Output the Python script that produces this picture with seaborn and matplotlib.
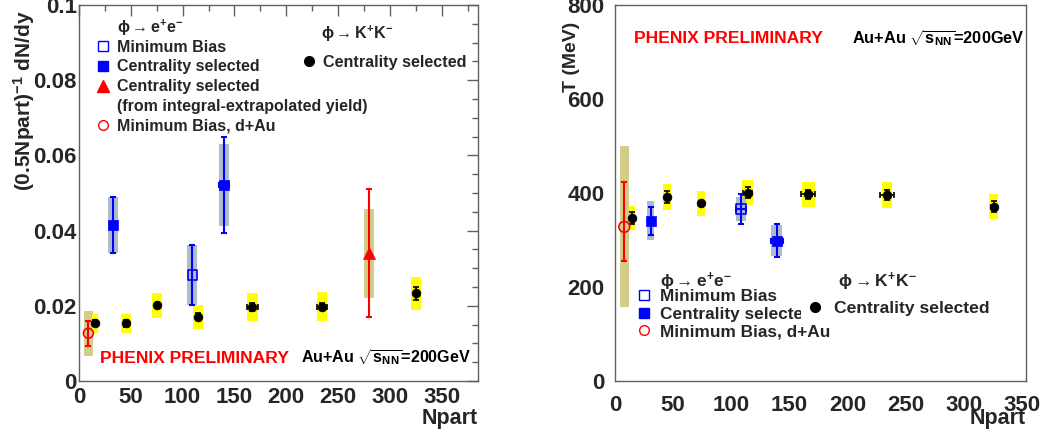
# plot.py - phi meson yield and inverse slope vs Npart (PHENIX preliminary style)

import numpy as np
import matplotlib
matplotlib.use('Agg')
import matplotlib.pyplot as plt
from matplotlib.lines import Line2D
from matplotlib.ticker import MultipleLocator, FuncFormatter
import seaborn as sns

# --- Data: left panel, (0.5 Npart)^-1 dN/dy ---
kk_npart_l = [15.4, 45.4, 75.0, 114.8, 167.3, 234.5, 325.2]
kk_yield = [0.0153, 0.0153, 0.0201, 0.0171, 0.0197, 0.0198, 0.0233]
kk_yield_err = [0.0008, 0.0010, 0.0006, 0.0009, 0.0010, 0.0010, 0.0018]
kk_yield_xerr = [0, 0, 0, 2, 5, 5, 0]
kk_yield_sys = [0.0025, 0.0025, 0.0034, 0.0032, 0.0038, 0.0038, 0.0044]
kk_yield_boxw = [3, 5, 5, 5, 5, 5, 5]

ee_mb_npart_l = [109.3]
ee_mb_yield = [0.0282]
ee_mb_yield_err = [0.0079]
ee_mb_yield_sys = [0.0079]
ee_mb_yield_boxw = [5]

ee_cs_npart_l = [32.5, 140.2]
ee_cs_yield = [0.0415, 0.0521]
ee_cs_yield_err = [0.0075, 0.0127]
ee_cs_yield_xerr = [0, 5]
ee_cs_yield_sys = [0.0075, 0.0109]
ee_cs_yield_boxw = [5, 5]

ee_ext_npart = [279.8]
ee_ext_yield = [0.0340]
ee_ext_yield_err = [0.0170]
ee_ext_yield_sys = [0.0118]
ee_ext_yield_boxw = [5]

dau_npart_l = [9.0]
dau_yield = [0.0127]
dau_yield_err = [0.0033]
dau_yield_sys = [0.0060]
dau_yield_boxw = [4.2]

# --- Data: right panel, inverse slope T (MeV) ---
kk_npart_r = [14.3, 44.7, 73.9, 114.0, 166.1, 234.0, 325.4]
kk_temp = [347, 392, 378, 401, 397, 396, 371]
kk_temp_err = [13, 13, 5, 12, 10, 10, 12]
kk_temp_xerr = [0, 0, 0, 4, 6, 6, 2]
kk_temp_sys = [25, 28, 26, 27, 27, 27, 26]
kk_temp_boxw = [2.5, 3.5, 3.6, 4.5, 5.5, 4.5, 3.5]

ee_mb_npart_r = [108.3]
ee_mb_temp = [366]
ee_mb_temp_err = [31]
ee_mb_temp_xerr = [4]
ee_mb_temp_sys = [25]
ee_mb_temp_boxw = [4]

ee_cs_npart_r = [30.7, 139.2]
ee_cs_temp = [341, 298.5]
ee_cs_temp_err = [30, 35]
ee_cs_temp_xerr = [0, 5]
ee_cs_temp_sys = [41, 33]
ee_cs_temp_boxw = [3, 4.75]

dau_npart_r = [8.0]
dau_temp = [328]
dau_temp_err_lo = [73]
dau_temp_err_hi = [96]
dau_temp_sys = [171]
dau_temp_boxw = [3.9]

# --- Colours ---
AZUL = '#0000ff'
VERMELHO = '#ff0000'
AMARELO = '#ffff00'
CINZA_AZUL = '#b0bccb'
CAQUI = '#d4cc8a'
MOLDURA = '#606060'

CAB_EE = r'$\phi\rightarrow$e$^{+}$e$^{-}$'
CAB_KK = r'$\phi\rightarrow$K$^{+}$K$^{-}$'


def configurar_estilo():
    """ROOT-like look: bold Arial-metric font, white background."""
    sns.set_style('white')
    plt.rcParams['font.family'] = ['Liberation Sans', 'DejaVu Sans']
    plt.rcParams['font.weight'] = 'bold'
    plt.rcParams['mathtext.fontset'] = 'custom'
    plt.rcParams['mathtext.rm'] = 'Liberation Sans:bold'
    plt.rcParams['mathtext.bf'] = 'Liberation Sans:bold'
    plt.rcParams['mathtext.it'] = 'Liberation Sans:bold'
    plt.rcParams['mathtext.default'] = 'regular'


def desenhar_serie(ax, x, y, yerr, sys, boxw, cor_caixa, cor_erro, marcador,
                   cor_marcador, tam, aberto=False, xerr=None, lw=1.5, cap=2.5):
    """Systematic box + stat error bar + marker for one series."""
    x = np.asarray(x, dtype=float)
    y = np.asarray(y, dtype=float)
    sys = np.asarray(sys, dtype=float)
    ax.bar(x, 2 * sys, bottom=y - sys, width=2 * np.asarray(boxw), color=cor_caixa,
           linewidth=0, zorder=1)
    ax.errorbar(x, y, yerr=yerr, xerr=xerr, fmt='none', ecolor=cor_erro,
                elinewidth=lw, capsize=cap, capthick=lw, zorder=2)
    if aberto:
        ax.scatter(x, y, marker=marcador, s=tam, facecolors='none',
                   edgecolors=cor_marcador, linewidths=1.2, zorder=3)
    else:
        sns.scatterplot(x=x, y=y, ax=ax, marker=marcador, s=tam, color=cor_marcador,
                        edgecolor=cor_marcador, linewidth=0.5, zorder=3, legend=False)


def formatar_eixos(ax, ylim, ymaior, ymenor, fmt, lados_todos):
    ax.set_ylim(*ylim)
    ax.xaxis.set_major_locator(MultipleLocator(50))
    ax.xaxis.set_minor_locator(MultipleLocator(25))
    ax.yaxis.set_major_locator(MultipleLocator(ymaior))
    ax.yaxis.set_minor_locator(MultipleLocator(ymenor))
    ax.yaxis.set_major_formatter(FuncFormatter(fmt))
    ax.xaxis.set_major_formatter(FuncFormatter(lambda v, p: f'{v:g}'))
    for s in ax.spines.values():
        s.set_color(MOLDURA)
        s.set_linewidth(1.0)
    if lados_todos:
        ax.tick_params(which='both', direction='in', top=True, right=True,
                       color=MOLDURA, width=1)
        ax.tick_params(which='major', length=8)
        ax.tick_params(which='minor', length=4)
    else:
        ax.tick_params(which='major', direction='out', length=6, color=MOLDURA, width=1)
        ax.tick_params(which='minor', direction='in', length=5, color=MOLDURA, width=1)
    ax.tick_params(axis='both', which='major', labelsize=16)
    ax.tick_params(axis='x', pad=4)
    ax.tick_params(axis='y', pad=1.5)
    for lab in ax.get_xticklabels() + ax.get_yticklabels():
        lab.set_fontweight('bold')
    ax.set_xlabel('Npart', fontsize=15.5, fontweight='bold', ha='right', va='top')
    ax.xaxis.set_label_coords(1.0, -0.072)


def handles_ee(com_triangulo):
    vazio = Line2D([], [], linestyle='none')
    mb = Line2D([], [], linestyle='none', marker='s', ms=6.5, mfc='none', mec=AZUL, mew=1)
    cs = Line2D([], [], linestyle='none', marker='s', ms=6.5, mfc=AZUL, mec=AZUL)
    tri = Line2D([], [], linestyle='none', marker='^', ms=8, mfc=VERMELHO, mec=VERMELHO)
    da = Line2D([], [], linestyle='none', marker='o', ms=7, mfc='none', mec=VERMELHO, mew=1)
    if com_triangulo:
        return ([mb, cs, tri, vazio, da],
                ['Minimum Bias', 'Centrality selected', 'Centrality selected',
                 '(from integral-extrapolated yield)', 'Minimum Bias, d+Au'])
    return ([mb, cs, da], ['Minimum Bias', 'Centrality selected', 'Minimum Bias, d+Au'])


def handles_kk():
    kk = Line2D([], [], linestyle='none', marker='o', ms=7, mfc='black', mec='black')
    return [kk], ['Centrality selected']


def painel_rendimento(ax):
    desenhar_serie(ax, dau_npart_l, dau_yield, dau_yield_err, dau_yield_sys, dau_yield_boxw,
                   CAQUI, VERMELHO, 'o', VERMELHO, 50, aberto=True)
    desenhar_serie(ax, kk_npart_l, kk_yield, kk_yield_err, kk_yield_sys, kk_yield_boxw,
                   AMARELO, 'black', 'o', 'black', 40, xerr=kk_yield_xerr, lw=1.2, cap=2)
    desenhar_serie(ax, ee_mb_npart_l, ee_mb_yield, ee_mb_yield_err, ee_mb_yield_sys,
                   ee_mb_yield_boxw, CINZA_AZUL, AZUL, 's', AZUL, 45, aberto=True)
    desenhar_serie(ax, ee_cs_npart_l, ee_cs_yield, ee_cs_yield_err, ee_cs_yield_sys,
                   ee_cs_yield_boxw, CINZA_AZUL, AZUL, 's', AZUL, 45, xerr=ee_cs_yield_xerr)
    desenhar_serie(ax, ee_ext_npart, ee_ext_yield, ee_ext_yield_err, ee_ext_yield_sys,
                   ee_ext_yield_boxw, CAQUI, VERMELHO, '^', VERMELHO, 75)
    ax.set_xlim(0, 385)
    formatar_eixos(ax, (0, 0.1), 0.02, 0.005,
                   lambda v, p: '0' if abs(v) < 1e-9 else f'{v:g}', True)
    ax.set_ylabel(r'(0.5Npart)$^{-1}$ dN/dy', fontsize=15, fontweight='bold', loc='top')
    ax.yaxis.set_label_coords(-0.105, 0.985)

    ax.text(0.095, 0.940, CAB_EE, fontsize=11.5, fontweight='bold',
            transform=ax.transAxes, va='center', ha='left')
    h, l = handles_ee(True)
    leg1 = ax.legend(h, l, loc='upper left', bbox_to_anchor=(0.040, 0.908), frameon=False,
                     borderpad=0, borderaxespad=0, handlelength=1.0, handletextpad=0.4,
                     labelspacing=0.3, prop={'size': 11.5, 'weight': 'bold'})
    ax.add_artist(leg1)

    ax.text(0.607, 0.922, CAB_KK, fontsize=11.6, fontweight='bold',
            transform=ax.transAxes, va='center', ha='left')
    h, l = handles_kk()
    ax.legend(h, l, loc='upper left', bbox_to_anchor=(0.556, 0.868), frameon=False,
              borderpad=0, borderaxespad=0, handlelength=1.0, handletextpad=0.4,
              prop={'size': 11.6, 'weight': 'bold'})

    ax.text(0.053, 0.0585, 'PHENIX PRELIMINARY', color=VERMELHO, fontsize=12.6,
            fontweight='bold', transform=ax.transAxes, va='center', ha='left')
    ax.text(0.556, 0.064, r'Au+Au $\sqrt{s_{NN}}$=200GeV', color='black', fontsize=11.6,
            fontweight='bold', transform=ax.transAxes, va='center', ha='left')


def painel_temperatura(ax):
    desenhar_serie(ax, dau_npart_r, dau_temp, [dau_temp_err_lo, dau_temp_err_hi],
                   dau_temp_sys, dau_temp_boxw, CAQUI, VERMELHO, 'o', VERMELHO, 60, aberto=True)
    desenhar_serie(ax, kk_npart_r, kk_temp, kk_temp_err, kk_temp_sys, kk_temp_boxw,
                   AMARELO, 'black', 'o', 'black', 40, xerr=kk_temp_xerr, lw=1.2, cap=2)
    desenhar_serie(ax, ee_mb_npart_r, ee_mb_temp, ee_mb_temp_err, ee_mb_temp_sys,
                   ee_mb_temp_boxw, CINZA_AZUL, AZUL, 's', AZUL, 45, aberto=True,
                   xerr=ee_mb_temp_xerr)
    desenhar_serie(ax, ee_cs_npart_r, ee_cs_temp, ee_cs_temp_err, ee_cs_temp_sys,
                   ee_cs_temp_boxw, CINZA_AZUL, AZUL, 's', AZUL, 45, xerr=ee_cs_temp_xerr)
    ax.set_xlim(0, 353)
    formatar_eixos(ax, (0, 800), 200, 100, lambda v, p: f'{v:g}', False)
    ax.set_ylabel('T (MeV)', fontsize=14, fontweight='bold', loc='top')
    ax.yaxis.set_label_coords(-0.085, 0.955)

    ax.text(0.110, 0.263, CAB_EE, fontsize=12.4, fontweight='bold',
            transform=ax.transAxes, va='center', ha='left')
    h, l = handles_ee(False)
    leg1 = ax.legend(h, l, loc='upper left', bbox_to_anchor=(0.050, 0.245), frameon=False,
                     borderpad=0, borderaxespad=0, handlelength=1.0, handletextpad=0.43,
                     labelspacing=0.15, prop={'size': 12.4, 'weight': 'bold'})
    ax.add_artist(leg1)

    ax.text(0.543, 0.263, CAB_KK, fontsize=12.6, fontweight='bold',
            transform=ax.transAxes, va='center', ha='left')
    h, l = handles_kk()
    leg2 = ax.legend(h, l, loc='upper left', bbox_to_anchor=(0.453, 0.228), frameon=True,
                     facecolor='white', edgecolor='white', framealpha=1, fancybox=False,
                     borderpad=0.3, borderaxespad=0, handlelength=1.0, handletextpad=0.6,
                     prop={'size': 12.6, 'weight': 'bold'})
    leg2.get_frame().set_linewidth(0)

    ax.text(0.046, 0.912, 'PHENIX PRELIMINARY', color=VERMELHO, fontsize=12.6,
            fontweight='bold', transform=ax.transAxes, va='center', ha='left')
    ax.text(0.577, 0.912, r'Au+Au $\sqrt{s_{NN}}$=200GeV', color='black', fontsize=11.8,
            fontweight='bold', transform=ax.transAxes, va='center', ha='left')


def main():
    configurar_estilo()
    fig = plt.figure(figsize=(10.45, 4.33), dpi=100)
    ax_esq = fig.add_axes([0.0756, 0.1201, 0.3818, 0.8684])
    ax_dir = fig.add_axes([0.5885, 0.1201, 0.3930, 0.8684])
    painel_rendimento(ax_esq)
    painel_temperatura(ax_dir)
    fig.savefig('out.png', dpi=100)
    plt.close(fig)


if __name__ == '__main__':
    main()
